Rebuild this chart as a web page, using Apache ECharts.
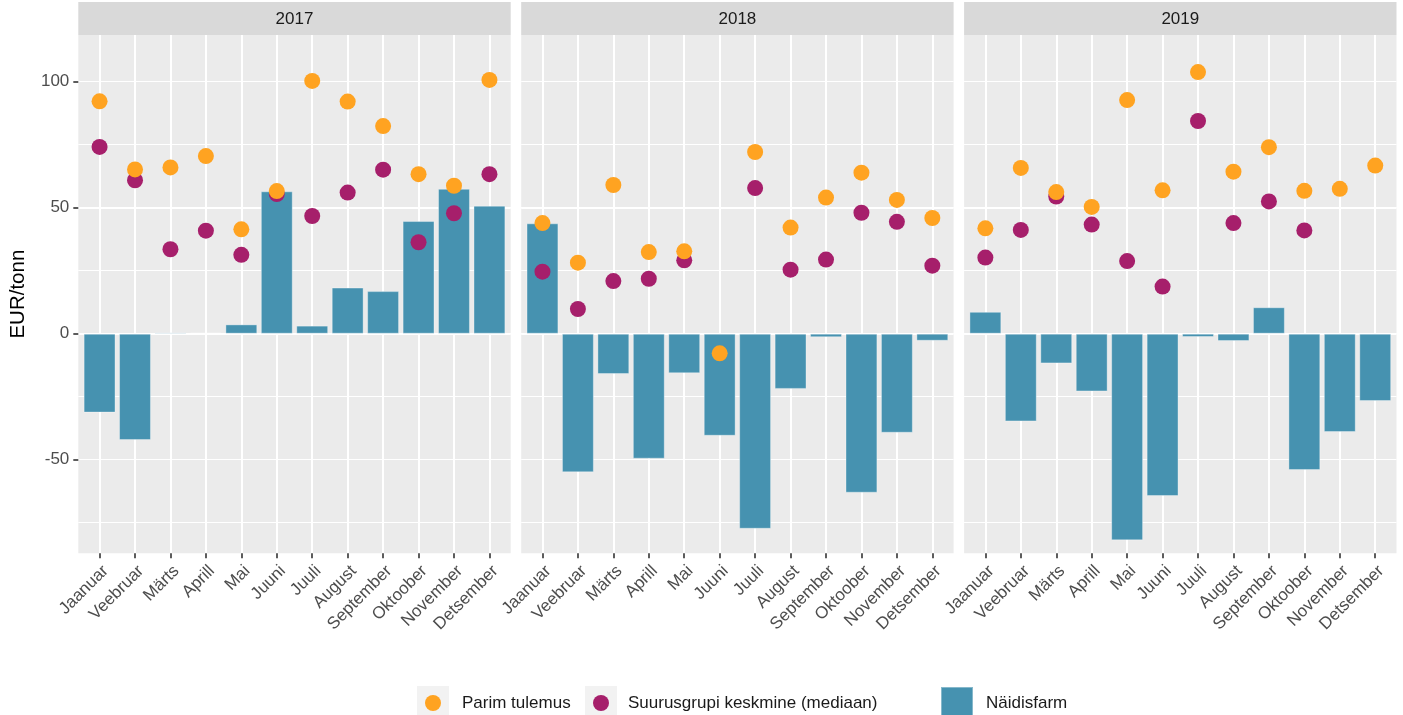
<!DOCTYPE html>
<html><head><meta charset="utf-8">
<script src="https://cdn.jsdelivr.net/npm/echarts@6/dist/echarts.min.js"></script>
<style>html,body{margin:0;padding:0;background:#fff}#c{width:1403px;height:715px}</style>
</head><body><div id="c"></div>
<script>
// ---------- data ----------
const months = ['Jaanuar','Veebruar','Märts','Aprill','Mai','Juuni','Juuli','August','September','Oktoober','November','Detsember'];
const years = ['2017','2018','2019'];
const yTickValues = [-50, 0, 50, 100];

const best2017   = [92.2, 65.2, 66.0, 70.5, 41.4, 56.6, 100.3, 92.1, 82.4, 63.3, 58.7, 100.7];
const median2017 = [74.1, 60.9, 33.5, 40.9, 31.3, 55.4, 46.7, 56.0, 65.1, 36.3, 47.8, 63.3];
const farm2017   = [-31.3, -42.2, 0.5, 0.4, 3.7, 56.5, 3.2, 18.3, 16.9, 44.7, 57.5, 50.8];

const best2018   = [43.9, 28.2, 59.0, 32.4, 32.7, -7.8, 72.1, 42.1, 54.0, 63.9, 53.1, 45.9];
const median2018 = [24.6, 9.8, 20.9, 21.8, 29.1, null, 57.8, 25.4, 29.4, 48.0, 44.4, 27.0];
const farm2018   = [43.8, -55.0, -16.0, -49.6, -15.7, -40.5, -77.4, -21.9, -1.4, -63.1, -39.3, -2.8];

const best2019   = [41.8, 65.8, 56.2, 50.3, 92.7, 56.9, 103.8, 64.3, 74.0, 56.7, 57.5, 66.7];
const median2019 = [30.2, 41.2, 54.4, 43.3, 28.8, 18.7, 84.4, 43.9, 52.5, 41.0, null, null];
const farm2019   = [8.7, -34.8, -11.8, -22.9, -82.0, -64.4, -1.3, -2.9, 10.5, -54.1, -39.0, -26.7];

const bestByYear   = [best2017, best2018, best2019];
const medianByYear = [median2017, median2018, median2019];
const farmByYear   = [farm2017, farm2018, farm2019];

const NAME_BEST = 'Parim tulemus';
const NAME_MED  = 'Suurusgrupi keskmine (mediaan)';
const NAME_FARM = 'Näidisfarm';

// ---------- layout ----------
const FONT = '"Liberation Sans", Arial, sans-serif';
const PANEL_L = [78.3, 521.2, 964.1];
const PANEL_W = 432.4;
const TOP = 35, HEIGHT = 518.3;
const Y_MIN = -87.14, Y_MAX = 118.53;
const STEP = PANEL_W / 12.2;
const C_BEST = '#ffa321', C_MED = '#a61f6b', C_FARM = '#4692b0';

const grid = [], xAxis = [], yAxis = [], series = [], graphic = [];
years.forEach((yr, i) => {
  const L = PANEL_L[i];
  grid.push({left: L, top: TOP, width: PANEL_W, height: HEIGHT, show: true,
             backgroundColor: '#ebebeb', borderWidth: 0, outerBoundsMode: 'none'});
  grid.push({left: L + 0.6 * STEP, top: TOP, width: 11 * STEP, height: HEIGHT, outerBoundsMode: 'none'});
  // x axes
  xAxis.push({gridIndex: 2*i, type: 'value', min: 0, max: 1, show: false});
  xAxis.push({gridIndex: 2*i+1, type: 'category', data: months, boundaryGap: false, position: 'bottom',
    axisLine: {show: false, onZero: false},
    axisTick: {show: true, interval: 0, length: 5, lineStyle: {color: '#333333', width: 1.6}},
    axisLabel: {interval: 0, rotate: 45, align: 'right', verticalAlign: 'top', margin: 9,
                color: '#4d4d4d', fontSize: 17, fontFamily: FONT},
    splitLine: {show: true, interval: 0, lineStyle: {color: '#ffffff', width: 2}}});
  // y axes
  yAxis.push({gridIndex: 2*i, type: 'value', position: 'left', min: Y_MIN, max: Y_MAX,
    minInterval: 25, maxInterval: 25,
    axisLine: {show: false, onZero: false}, axisTick: {show: false}, axisLabel: {show: false},
    splitLine: {show: true, showMinLine: false, showMaxLine: false, lineStyle: {color: '#ffffff', width: 1}}});
  const major = {gridIndex: 2*i, type: 'value', position: 'left', min: Y_MIN, max: Y_MAX,
    minInterval: 50, maxInterval: 50,
    axisLine: {show: false, onZero: false},
    axisTick: {show: i === 0, customValues: yTickValues, length: 5, lineStyle: {color: '#333333', width: 1.6}},
    axisLabel: {show: i === 0, customValues: yTickValues, margin: 9, color: '#4d4d4d', fontSize: 17, fontFamily: FONT},
    splitLine: {show: true, showMinLine: false, showMaxLine: false, lineStyle: {color: '#ffffff', width: 2}}};
  if (i === 0) {
    Object.assign(major, {name: 'EUR/tonn', nameLocation: 'middle', nameRotate: 90, nameGap: 49,
      nameTextStyle: {fontSize: 20.5, color: '#000000', fontFamily: FONT}});
  }
  yAxis.push(major);
  yAxis.push({gridIndex: 2*i+1, type: 'value', min: Y_MIN, max: Y_MAX, show: false});
  // series
  series.push({type: 'bar', name: NAME_FARM, xAxisIndex: 2*i+1, yAxisIndex: 3*i+2,
    data: farmByYear[i], barWidth: 0.9 * STEP, clip: false,
    itemStyle: {color: C_FARM, borderColor: 'rgba(255,255,255,0.35)', borderWidth: 1}});
  series.push({type: 'scatter', name: NAME_MED, xAxisIndex: 2*i+1, yAxisIndex: 3*i+2,
    data: medianByYear[i], symbolSize: 16, clip: false, itemStyle: {color: C_MED, opacity: 1}});
  series.push({type: 'scatter', name: NAME_BEST, xAxisIndex: 2*i+1, yAxisIndex: 3*i+2,
    data: bestByYear[i], symbolSize: 16, clip: false, itemStyle: {color: C_BEST, opacity: 1}});
  // strip
  graphic.push({type: 'rect', shape: {x: L, y: 2, width: PANEL_W, height: 33}, style: {fill: '#d9d9d9'}, silent: true});
  graphic.push({type: 'text', x: L + PANEL_W / 2, y: 19, silent: true,
    style: {text: yr, fill: '#1a1a1a', font: '17px ' + FONT, align: 'center', verticalAlign: 'middle'}});
});
// legend key backgrounds
graphic.push({type: 'rect', shape: {x: 417, y: 686, width: 32, height: 33}, style: {fill: '#f2f2f2'}, silent: true});
graphic.push({type: 'rect', shape: {x: 585, y: 686, width: 32, height: 33}, style: {fill: '#f2f2f2'}, silent: true});

const legTxt = (pad) => ({fontSize: 17, color: '#1a1a1a', fontFamily: FONT, padding: [0, 0, 0, pad]});
const legend = [
  {data: [NAME_BEST], left: 425, top: 694.5, padding: 0, itemWidth: 16, itemHeight: 16, icon: 'circle',
   selectedMode: false, textStyle: legTxt(16)},
  {data: [NAME_MED], left: 593, top: 694.5, padding: 0, itemWidth: 16, itemHeight: 16, icon: 'circle',
   selectedMode: false, textStyle: legTxt(14)},
  {data: [NAME_FARM], left: 940, top: 686, padding: 0, itemWidth: 32, itemHeight: 33, icon: 'rect',
   selectedMode: false, textStyle: legTxt(8)}
];

const chart = echarts.init(document.getElementById('c'), null, {renderer: 'canvas'});
chart.setOption({animation: false, backgroundColor: '#ffffff', grid, xAxis, yAxis, series, legend, graphic});
</script></body></html>
